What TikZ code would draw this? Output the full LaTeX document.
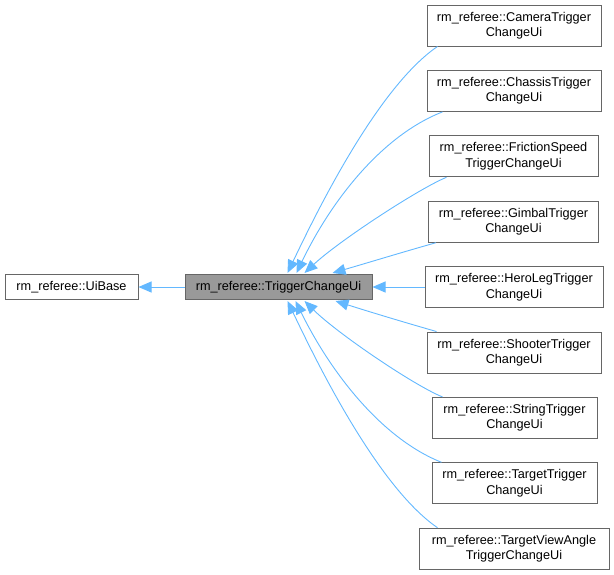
\documentclass[tikz,border=0pt]{standalone}
\usepackage{fontspec}
\setmainfont{Liberation Sans}
\usetikzlibrary{arrows.meta,calc}
\definecolor{edgeblue}{HTML}{63B8FF}
\definecolor{boxline}{HTML}{666666}
\definecolor{boxfill}{HTML}{999999}
\begin{document}
\begin{tikzpicture}[x=1pt,y=-1pt,
  cls/.style={draw=boxline, line width=1pt, fill=white, inner sep=0pt, align=center,
    font=\fontsize{12.7}{15.5}\selectfont, minimum height=25pt},
  sub/.style={cls, minimum height=41pt},
  cur/.style={cls, fill=boxfill},
  inh/.style={draw=edgeblue, line width=0.9pt, -{Triangle[length=13pt,width=11pt]}}
]
\useasboundingbox (0,0) rectangle (614,574);

\node[cls, minimum width=133pt] (base) at (71.5,287) {rm\_referee::UiBase};
\node[cur, minimum width=187pt] (tcu) at (278.5,287) {rm\_referee::TriggerChangeUi};

\node[sub, minimum width=174pt] (cam) at (514,25.5) {rm\_referee::CameraTrigger\\ChangeUi};
\node[sub, minimum width=174pt] (chs) at (514,90.9) {rm\_referee::ChassisTrigger\\ChangeUi};
\node[sub, minimum width=169pt] (fr) at (513.5,156.3) {rm\_referee::FrictionSpeed\\TriggerChangeUi};
\node[sub, minimum width=170pt] (gim) at (513.5,221.7) {rm\_referee::GimbalTrigger\\ChangeUi};
\node[sub, minimum width=178pt] (hero) at (514,287) {rm\_referee::HeroLegTrigger\\ChangeUi};
\node[sub, minimum width=174pt] (sh) at (514,352.5) {rm\_referee::ShooterTrigger\\ChangeUi};
\node[sub, minimum width=165pt] (str) at (514.5,417.9) {rm\_referee::StringTrigger\\ChangeUi};
\node[sub, minimum width=165pt] (tgt) at (514.5,483.3) {rm\_referee::TargetTrigger\\ChangeUi};
\node[sub, minimum width=190pt] (tva) at (514,548.7) {rm\_referee::TargetViewAngle\\TriggerChangeUi};

\draw[inh] (tcu.west) -- (base.east);
\draw[inh] (hero.west) -- (tcu.east);

\draw[inh] ($(cam.south west)+(11,0)$) .. controls (375,89) and (311,224) .. ($(tcu.north west)+(103,-1)$);
\draw[inh] ($(chs.south west)+(16,0)$) .. controls (380.6,136) and (330,203) .. ($(tcu.north west)+(112,-1)$);
\draw[inh] ($(fr.south west)+(18,0)$) .. controls (420,188) and (340,240) .. ($(tcu.north west)+(120,-1)$);
\draw[inh] ($(gim.south west)+(8,0)$) .. controls (403,252) and (367,263) .. ($(tcu.north west)+(148,-1)$);

\draw[inh] ($(sh.north west)+(10,0)$) .. controls (403,322) and (367,311) .. ($(tcu.south west)+(151,1)$);
\draw[inh] ($(str.north west)+(11,0)$) .. controls (415,386) and (338,334) .. ($(tcu.south west)+(120,1)$);
\draw[inh] ($(tgt.north west)+(10,0)$) .. controls (380.6,438) and (330,371) .. ($(tcu.south west)+(111,1)$);
\draw[inh] ($(tva.north west)+(19,0)$) .. controls (375,485) and (311,350) .. ($(tcu.south west)+(103,1)$);
\end{tikzpicture}
\end{document}
